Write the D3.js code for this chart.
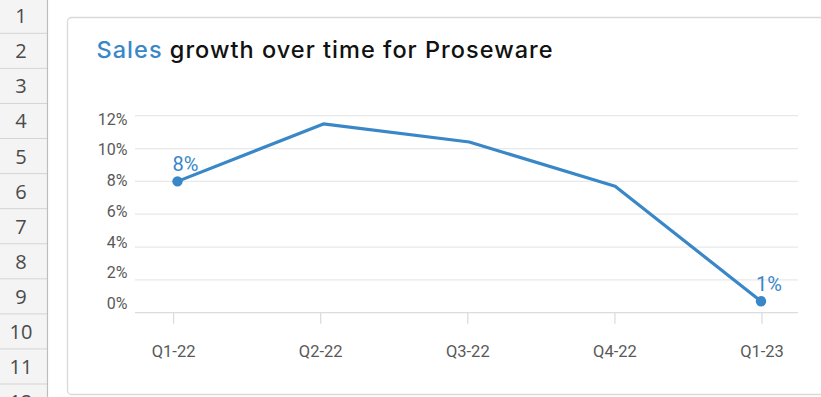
<!DOCTYPE html>
<html>
<head>
<meta charset="utf-8">
<script src="https://cdn.jsdelivr.net/npm/d3@7"></script>
<style>
  html, body { margin: 0; padding: 0; background: #ffffff; }
  svg { display: block; }
</style>
</head>
<body>
<svg id="chart" width="821" height="397"></svg>
<script>
// ---- data ----
const categories = ["Q1-22", "Q2-22", "Q3-22", "Q4-22", "Q1-23"];
const salesGrowth = [8.0, 11.5, 10.4, 7.7, 0.7];
const yTicks = [0, 2, 4, 6, 8, 10, 12];
const rowNumbers = [1, 2, 3, 4, 5, 6, 7, 8, 9, 10, 11, 12];
const titleHighlight = "Sales";
const titleRest = " growth over time for Proseware";

const W = 821, H = 397;
const svg = d3.select("#chart");
const blue = "#3a87c8";

// ---- spreadsheet row header ----
const rowH = 35.07, rowTop = -1.75;
const rowScale = d3.scaleLinear().domain([0, 1]).range([rowTop, rowTop + rowH]);
svg.append("rect").attr("x", 0).attr("y", 0).attr("width", 48).attr("height", H).attr("fill", "#f4f4f4");
const rows = svg.append("g");
rowNumbers.forEach((r, i) => {
  rows.append("line")
    .attr("x1", 0).attr("x2", 47)
    .attr("y1", rowScale(i + 1)).attr("y2", rowScale(i + 1))
    .attr("stroke", "#d4d4d4").attr("stroke-width", 1);
  rows.append("text")
    .attr("x", 21).attr("y", rowScale(i + 0.5))
    .attr("text-anchor", "middle").attr("dominant-baseline", "central")
    .attr("font-family", "'Open Sans', 'Noto Sans', sans-serif")
    .attr("font-size", 20).attr("fill", "#4a4a4a")
    .text(r);
});
svg.append("line").attr("x1", 47.5).attr("x2", 47.5).attr("y1", 0).attr("y2", H)
  .attr("stroke", "#bdbdbd").attr("stroke-width", 1.2);

// ---- card ----
svg.append("rect")
  .attr("x", 67.5).attr("y", 17.5).attr("width", 800).attr("height", 377)
  .attr("rx", 4).attr("fill", "#ffffff")
  .attr("stroke", "#d9d9d9").attr("stroke-width", 1.3);

// ---- title ----
const title = svg.append("text")
  .attr("x", 96.5).attr("y", 58)
  .attr("font-family", "Inter, 'Noto Sans', sans-serif")
  .attr("font-size", 23.5).attr("font-weight", 500).attr("fill", "#111111")
  .attr("textLength", 456).attr("lengthAdjust", "spacing");
title.append("tspan").attr("fill", blue).text(titleHighlight);
title.append("tspan").text(titleRest);

// ---- scales ----
const y = d3.scaleLinear().domain([0, 12]).range([312.7, 115.7]);
const yLabel = d3.scaleLinear().domain([0, 12]).range([303.6, 119]);
const x = d3.scalePoint().domain(categories).range([177.5, 761]);
const xTick = d3.scalePoint().domain(categories).range([173.6, 762]);
const gridX0 = 135, gridX1 = 798;

// gridlines
svg.append("g").selectAll("line").data(yTicks).join("line")
  .attr("x1", gridX0).attr("x2", gridX1)
  .attr("y1", d => y(d)).attr("y2", d => y(d))
  .attr("stroke", d => d === 0 ? "#dcdcdc" : "#e8e8e8")
  .attr("stroke-width", 1.3);

// y labels
svg.append("g").selectAll("text").data(yTicks).join("text")
  .attr("x", 127.5).attr("y", d => yLabel(d) + 5.6)
  .attr("text-anchor", "end")
  .attr("font-family", "Roboto, 'Liberation Sans', sans-serif")
  .attr("font-size", 16).attr("fill", "#595959")
  .text(d => d + "%");

// x ticks
svg.append("g").selectAll("line").data(categories).join("line")
  .attr("x1", d => xTick(d)).attr("x2", d => xTick(d))
  .attr("y1", y(0)).attr("y2", y(0) + 11)
  .attr("stroke", "#dcdcdc").attr("stroke-width", 1.3);

// x labels
svg.append("g").selectAll("text").data(categories).join("text")
  .attr("x", d => xTick(d)).attr("y", 357.3)
  .attr("text-anchor", "middle")
  .attr("font-family", "Roboto, 'Liberation Sans', sans-serif")
  .attr("font-size", 16.5).attr("fill", "#595959")
  .text(d => d);

// line
const pts = categories.map((c, i) => ({ c, v: salesGrowth[i] }));
svg.append("path").datum(pts)
  .attr("fill", "none").attr("stroke", blue).attr("stroke-width", 3.2)
  .attr("stroke-linejoin", "round")
  .attr("d", d3.line().x(d => x(d.c)).y(d => y(d.v)));

// end markers + labels
const ends = [pts[0], pts[pts.length - 1]];
svg.append("g").selectAll("circle").data(ends).join("circle")
  .attr("cx", d => x(d.c)).attr("cy", d => y(d.v)).attr("r", 5.2)
  .attr("fill", blue);
svg.append("g").selectAll("text").data(ends).join("text")
  .attr("x", d => x(d.c) + 8).attr("y", d => y(d.v) - 10.5)
  .attr("text-anchor", "middle")
  .attr("font-family", "Roboto, 'Liberation Sans', sans-serif")
  .attr("font-size", 20).attr("fill", blue)
  .text(d => Math.round(d.v) + "%");
</script>
</body>
</html>
